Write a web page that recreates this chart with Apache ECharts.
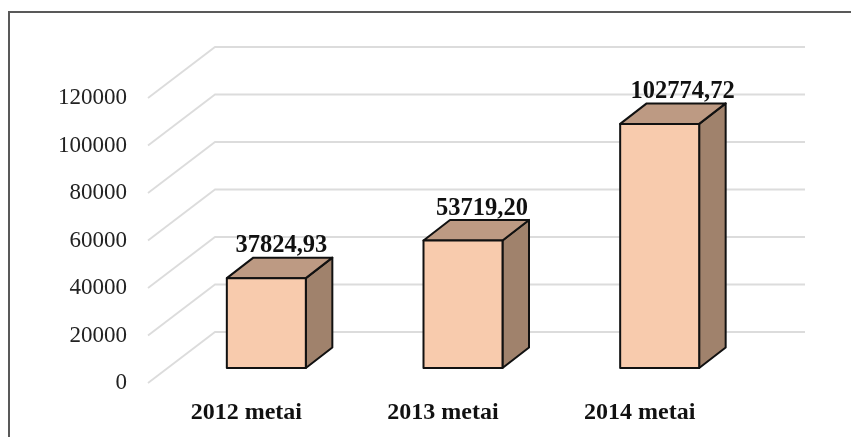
<!DOCTYPE html>
<html>
<head>
<meta charset="utf-8">
<style>html,body{margin:0;padding:0;background:#fff}#c{width:851px;height:437px}</style>
<script src="https://cdn.jsdelivr.net/npm/echarts@6/dist/echarts.min.js"></script>
</head>
<body>
<div id="c"></div>
<script>
const categories = ['2012 metai', '2013 metai', '2014 metai'];
const values = [37824.93, 53719.20, 102774.72];
const valueLabels = ['37824,93', '53719,20', '102774,72'];
const tickValues = [0, 20000, 40000, 60000, 80000, 100000, 120000];

const FONT = '"Liberation Serif", serif';
const WALL = { dx: 67, dy: -51 };
const BAR = { dx: 20, dy: -15, depthX: 26.5, depthY: -20.5, width: 79 };
const LABEL_SHIFT = [15, 19, 23];
const EDGE = { stroke: '#111', lineWidth: 2, lineJoin: 'round' };

function renderGridLine(params, api) {
  const cs = params.coordSys;
  const p = api.coord([0, api.value(0)]);
  return {
    type: 'polyline',
    silent: true,
    shape: { points: [[cs.x, p[1]], [cs.x + WALL.dx, p[1] + WALL.dy], [cs.x + WALL.dx + cs.width, p[1] + WALL.dy]] },
    style: { stroke: '#dcdcdc', lineWidth: 1.8, fill: null }
  };
}

function renderBar(params, api) {
  const i = params.dataIndex;
  const top = api.coord([api.value(0), api.value(1)]);
  const base = api.coord([api.value(0), 0]);
  const l = top[0] + BAR.dx - BAR.width / 2, r = l + BAR.width;
  const t = top[1] + BAR.dy, b = base[1] + BAR.dy;
  const dx = BAR.depthX, dy = BAR.depthY;
  return {
    type: 'group',
    children: [
      { type: 'polygon', shape: { points: [[r, t], [r + dx, t + dy], [r + dx, b + dy], [r, b]] },
        style: Object.assign({ fill: '#a0826c' }, EDGE) },
      { type: 'polygon', shape: { points: [[l, t], [l + dx, t + dy], [r + dx, t + dy], [r, t]] },
        style: Object.assign({ fill: '#bd9a83' }, EDGE) },
      { type: 'polygon', shape: { points: [[l, t], [r, t], [r, b], [l, b]] },
        style: Object.assign({ fill: '#f8cbad' }, EDGE) },
      { type: 'text', z2: 10,
        style: { text: valueLabels[i], x: (l + r) / 2 + LABEL_SHIFT[i], y: t + dy - 11.5,
          align: 'center', verticalAlign: 'middle',
          font: 'bold 24.5px ' + FONT, fill: '#111' } }
    ]
  };
}

const chart = echarts.init(document.getElementById('c'), null, { renderer: 'canvas' });
chart.setOption({
  animation: false,
  backgroundColor: '#fff',
  grid: { left: 148, top: 98, width: 590, height: 285, containLabel: false },
  xAxis: {
    type: 'category', data: categories,
    axisLine: { show: false }, axisTick: { show: false }, splitLine: { show: false },
    axisLabel: { margin: 18, fontFamily: FONT, fontWeight: 'bold', fontSize: 24, color: '#111' }
  },
  yAxis: {
    type: 'value', min: 0, max: 120000, interval: 20000,
    axisLine: { show: false }, axisTick: { show: false }, splitLine: { show: false },
    axisLabel: { margin: 21, fontFamily: FONT, fontSize: 23, color: '#222', formatter: v => String(v) }
  },
  graphic: [{
    type: 'polyline', silent: true,
    shape: { points: [[9, 440], [9, 12], [853, 12]] },
    style: { stroke: '#595959', lineWidth: 2, fill: null }
  }],
  series: [
    { type: 'custom', name: 'grid', z: 1, clip: false, renderItem: renderGridLine,
      data: tickValues.map(v => [v]), encode: { y: 0 }, silent: true },
    { type: 'custom', name: 'bars', z: 5, clip: false, renderItem: renderBar,
      data: values.map((v, i) => [i, v]), encode: { x: 0, y: 1 }, silent: true }
  ]
});
</script>
</body>
</html>
